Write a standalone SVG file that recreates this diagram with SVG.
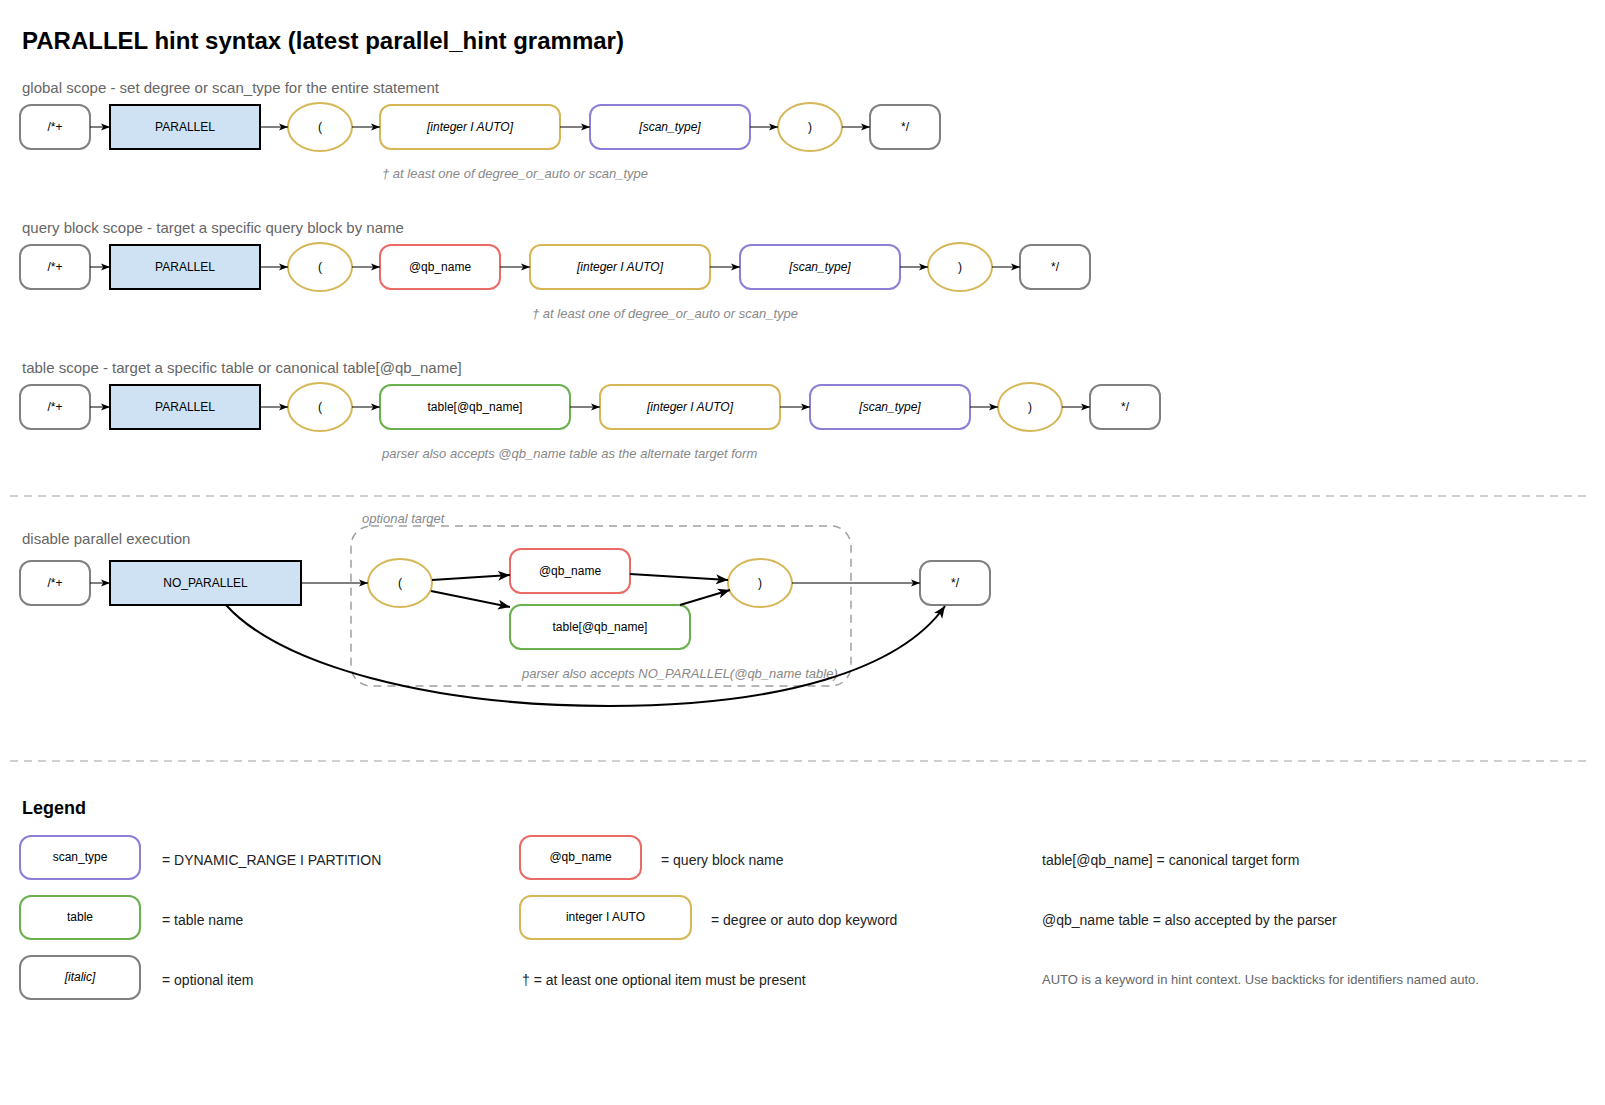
<svg xmlns="http://www.w3.org/2000/svg" width="1605" height="1105" viewBox="0 0 1605 1105">
<style>
  .bg{fill:#ffffff}
  .title{font-family:"Liberation Sans",Arial,sans-serif;font-size:24px;font-weight:bold;fill:#000}
  .legendtitle{font-family:"Liberation Sans",Arial,sans-serif;font-size:18px;font-weight:bold;fill:#000}
  .sec{font-family:"Liberation Sans",Arial,sans-serif;font-size:15px;fill:#666}
  .note{font-family:"Liberation Sans",Arial,sans-serif;font-size:13px;font-style:italic;fill:#888}
  .lbl{font-family:"Liberation Sans",Arial,sans-serif;font-size:12px;fill:#000;text-anchor:middle}
  .it{font-style:italic}
  .leg{font-family:"Liberation Sans",Arial,sans-serif;font-size:14px;fill:#222}
  .legsmall{font-family:"Liberation Sans",Arial,sans-serif;font-size:13px;fill:#666}
  .gray{fill:#fff;stroke:#808080;stroke-width:2}
  .kw{fill:#cfe2f3;stroke:#000;stroke-width:2}
  .gold{fill:#fff;stroke:#d6b656;stroke-width:2}
  .purple{fill:#fff;stroke:#8d7ed6;stroke-width:2}
  .red{fill:#fff;stroke:#ea6b66;stroke-width:2}
  .green{fill:#fff;stroke:#6ab04c;stroke-width:2}
  .sep{stroke:#c0c0c0;stroke-width:1.5;stroke-dasharray:8 6;fill:none}
  .grp{fill:none;stroke:#a0a0a0;stroke-width:1.5;stroke-dasharray:8 6}
  .e1{stroke:#000;stroke-width:1;fill:none;marker-end:url(#a1)}
  .e2{stroke:#000;stroke-width:2;fill:none;marker-end:url(#a2)}
</style>
<defs>
  <marker id="a1" markerUnits="userSpaceOnUse" markerWidth="9" markerHeight="8" viewBox="0 0 9 8" refX="9" refY="4" orient="auto">
    <path d="M0,0.5 L9,4 L0,7.5 L2.2,4 z" fill="#000"/>
  </marker>
  <marker id="a2" markerUnits="userSpaceOnUse" markerWidth="12" markerHeight="11" viewBox="0 0 12 11" refX="12" refY="5.5" orient="auto">
    <path d="M0,0.5 L12,5.5 L0,10.5 L3,5.5 z" fill="#000"/>
  </marker>
</defs>
<rect class="bg" x="0" y="0" width="1605" height="1105"/>

<text class="title" x="22" y="49">PARALLEL hint syntax (latest parallel_hint grammar)</text>

<!-- Row 1: global scope -->
<text class="sec" x="22" y="93">global scope - set degree or scan_type for the entire statement</text>
<g id="r1_open"><rect class="gray" x="20" y="105" width="70" height="44" rx="11"/><text class="lbl" x="55" y="131">/*+</text></g>
<g id="r1_parallel"><rect class="kw" x="110" y="105" width="150" height="44"/><text class="lbl" x="185" y="131">PARALLEL</text></g>
<g id="r1_lparen"><ellipse class="gold" cx="320" cy="127" rx="32" ry="24"/><text class="lbl" x="320" y="131">(</text></g>
<g id="r1_degree"><rect class="gold" x="380" y="105" width="180" height="44" rx="11"/><text class="lbl it" x="470" y="131">[integer I AUTO]</text></g>
<g id="r1_scan"><rect class="purple" x="590" y="105" width="160" height="44" rx="11"/><text class="lbl it" x="670" y="131">[scan_type]</text></g>
<g id="r1_rparen"><ellipse class="gold" cx="810" cy="127" rx="32" ry="24"/><text class="lbl" x="810" y="131">)</text></g>
<g id="r1_close"><rect class="gray" x="870" y="105" width="70" height="44" rx="11"/><text class="lbl" x="905" y="131">*/</text></g>
<text class="note" x="382" y="178">† at least one of degree_or_auto or scan_type</text>

<!-- Row 2: query block scope -->
<text class="sec" x="22" y="233">query block scope - target a specific query block by name</text>
<g id="r2_open"><rect class="gray" x="20" y="245" width="70" height="44" rx="11"/><text class="lbl" x="55" y="271">/*+</text></g>
<g id="r2_parallel"><rect class="kw" x="110" y="245" width="150" height="44"/><text class="lbl" x="185" y="271">PARALLEL</text></g>
<g id="r2_lparen"><ellipse class="gold" cx="320" cy="267" rx="32" ry="24"/><text class="lbl" x="320" y="271">(</text></g>
<g id="r2_qb"><rect class="red" x="380" y="245" width="120" height="44" rx="11"/><text class="lbl" x="440" y="271">@qb_name</text></g>
<g id="r2_degree"><rect class="gold" x="530" y="245" width="180" height="44" rx="11"/><text class="lbl it" x="620" y="271">[integer I AUTO]</text></g>
<g id="r2_scan"><rect class="purple" x="740" y="245" width="160" height="44" rx="11"/><text class="lbl it" x="820" y="271">[scan_type]</text></g>
<g id="r2_rparen"><ellipse class="gold" cx="960" cy="267" rx="32" ry="24"/><text class="lbl" x="960" y="271">)</text></g>
<g id="r2_close"><rect class="gray" x="1020" y="245" width="70" height="44" rx="11"/><text class="lbl" x="1055" y="271">*/</text></g>
<text class="note" x="532" y="318">† at least one of degree_or_auto or scan_type</text>

<!-- Row 3: table scope -->
<text class="sec" x="22" y="373">table scope - target a specific table or canonical table[@qb_name]</text>
<g id="r3_open"><rect class="gray" x="20" y="385" width="70" height="44" rx="11"/><text class="lbl" x="55" y="411">/*+</text></g>
<g id="r3_parallel"><rect class="kw" x="110" y="385" width="150" height="44"/><text class="lbl" x="185" y="411">PARALLEL</text></g>
<g id="r3_lparen"><ellipse class="gold" cx="320" cy="407" rx="32" ry="24"/><text class="lbl" x="320" y="411">(</text></g>
<g id="r3_table"><rect class="green" x="380" y="385" width="190" height="44" rx="11"/><text class="lbl" x="475" y="411">table[@qb_name]</text></g>
<g id="r3_degree"><rect class="gold" x="600" y="385" width="180" height="44" rx="11"/><text class="lbl it" x="690" y="411">[integer I AUTO]</text></g>
<g id="r3_scan"><rect class="purple" x="810" y="385" width="160" height="44" rx="11"/><text class="lbl it" x="890" y="411">[scan_type]</text></g>
<g id="r3_rparen"><ellipse class="gold" cx="1030" cy="407" rx="32" ry="24"/><text class="lbl" x="1030" y="411">)</text></g>
<g id="r3_close"><rect class="gray" x="1090" y="385" width="70" height="44" rx="11"/><text class="lbl" x="1125" y="411">*/</text></g>
<text class="note" x="382" y="458">parser also accepts @qb_name table as the alternate target form</text>

<line class="sep" x1="10" y1="496" x2="1590" y2="496"/>

<!-- Row 4: disable -->
<text class="sec" x="22" y="544">disable parallel execution</text>
<g id="r4_group"><rect class="grp" x="351" y="526" width="500" height="160" rx="20"/><text class="note" x="362" y="523">optional target</text></g>
<g id="r4_open"><rect class="gray" x="20" y="561" width="70" height="44" rx="11"/><text class="lbl" x="55" y="587">/*+</text></g>
<g id="r4_noparallel"><rect class="kw" x="110" y="561" width="191" height="44"/><text class="lbl" x="205.5" y="587">NO_PARALLEL</text></g>
<g id="r4_lparen"><ellipse class="gold" cx="400" cy="583" rx="32" ry="24"/><text class="lbl" x="400" y="587">(</text></g>
<g id="r4_qb"><rect class="red" x="510" y="549" width="120" height="44" rx="11"/><text class="lbl" x="570" y="575">@qb_name</text></g>
<g id="r4_table"><rect class="green" x="510" y="605" width="180" height="44" rx="11"/><text class="lbl" x="600" y="631">table[@qb_name]</text></g>
<g id="r4_rparen"><ellipse class="gold" cx="760" cy="583" rx="32" ry="24"/><text class="lbl" x="760" y="587">)</text></g>
<g id="r4_close"><rect class="gray" x="920" y="561" width="70" height="44" rx="11"/><text class="lbl" x="955" y="587">*/</text></g>
<text class="note" x="522" y="678">parser also accepts NO_PARALLEL(@qb_name table)</text>

<g id="connectors">
  <line class="e1" x1="90" y1="127" x2="110" y2="127"/>
  <line class="e1" x1="260" y1="127" x2="288" y2="127"/>
  <line class="e1" x1="352" y1="127" x2="380" y2="127"/>
  <line class="e1" x1="560" y1="127" x2="590" y2="127"/>
  <line class="e1" x1="750" y1="127" x2="778" y2="127"/>
  <line class="e1" x1="842" y1="127" x2="870" y2="127"/>

  <line class="e1" x1="90" y1="267" x2="110" y2="267"/>
  <line class="e1" x1="260" y1="267" x2="288" y2="267"/>
  <line class="e1" x1="352" y1="267" x2="380" y2="267"/>
  <line class="e1" x1="500" y1="267" x2="530" y2="267"/>
  <line class="e1" x1="710" y1="267" x2="740" y2="267"/>
  <line class="e1" x1="900" y1="267" x2="928" y2="267"/>
  <line class="e1" x1="992" y1="267" x2="1020" y2="267"/>

  <line class="e1" x1="90" y1="407" x2="110" y2="407"/>
  <line class="e1" x1="260" y1="407" x2="288" y2="407"/>
  <line class="e1" x1="352" y1="407" x2="380" y2="407"/>
  <line class="e1" x1="570" y1="407" x2="600" y2="407"/>
  <line class="e1" x1="780" y1="407" x2="810" y2="407"/>
  <line class="e1" x1="970" y1="407" x2="998" y2="407"/>
  <line class="e1" x1="1062" y1="407" x2="1090" y2="407"/>

  <line class="e1" x1="90" y1="583" x2="110" y2="583"/>
  <line class="e1" x1="301" y1="583" x2="368" y2="583"/>
  <line class="e2" x1="432" y1="580" x2="510" y2="575"/>
  <line class="e2" x1="431" y1="591" x2="510" y2="607"/>
  <line class="e2" x1="630" y1="574" x2="728" y2="580"/>
  <line class="e2" x1="680" y1="605" x2="730" y2="590"/>
  <line class="e1" x1="792" y1="583" x2="920" y2="583"/>
  <path class="e2" d="M226,605 C280,665 430,706 609,706 C780,706 900,670 945,606"/>
</g>

<line class="sep" x1="10" y1="761" x2="1590" y2="761"/>

<!-- Legend -->
<text class="legendtitle" x="22" y="814">Legend</text>
<g id="leg_scan"><rect class="purple" x="20" y="836" width="120" height="43" rx="11"/><text class="lbl" x="80" y="861">scan_type</text></g>
<text class="leg" x="162" y="865">= DYNAMIC_RANGE I PARTITION</text>
<g id="leg_table"><rect class="green" x="20" y="896" width="120" height="43" rx="11"/><text class="lbl" x="80" y="921">table</text></g>
<text class="leg" x="162" y="925">= table name</text>
<g id="leg_italic"><rect class="gray" x="20" y="956" width="120" height="43" rx="11"/><text class="lbl it" x="80" y="981">[italic]</text></g>
<text class="leg" x="162" y="985">= optional item</text>

<g id="leg_qb"><rect class="red" x="520" y="836" width="121" height="43" rx="11"/><text class="lbl" x="580.5" y="861">@qb_name</text></g>
<text class="leg" x="661" y="865">= query block name</text>
<g id="leg_degree"><rect class="gold" x="520" y="896" width="171" height="43" rx="11"/><text class="lbl" x="605.5" y="921">integer I AUTO</text></g>
<text class="leg" x="711" y="925">= degree or auto dop keyword</text>
<text class="leg" x="522" y="985">† = at least one optional item must be present</text>

<text class="leg" x="1042" y="865">table[@qb_name] = canonical target form</text>
<text class="leg" x="1042" y="925">@qb_name table = also accepted by the parser</text>
<text class="legsmall" x="1042" y="984">AUTO is a keyword in hint context. Use backticks for identifiers named auto.</text>
</svg>
